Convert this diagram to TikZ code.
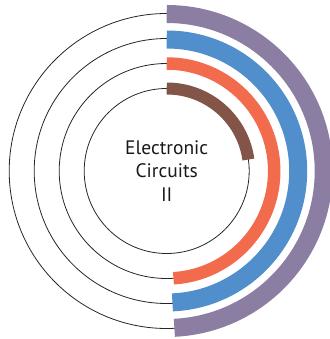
\documentclass[tikz,border=0pt]{standalone}
\usepackage{fontspec}
\setmainfont{PT Sans}
\usepackage{xcolor}
\usepackage{tikz}
\usetikzlibrary{positioning}
\definecolor{ring_brown}{RGB}{131, 85, 73}
\definecolor{ring_orange}{RGB}{242, 107, 77}
\definecolor{ring_blue}{RGB}{80, 143, 203}
\definecolor{ring_purple}{RGB}{140, 125, 162}

\begin{document}
\begin{tikzpicture}[x=1pt, y=1pt,
    orbit/.style={draw=black!85, line width=0.8pt},
    band/.style={line cap=butt}]
            \useasboundingbox (-166.7,-168) rectangle (162.3,171);
            \draw[orbit] (0,0) circle (82.5);
            \draw[orbit] (0,0) circle (107.5);
            \draw[orbit] (0,0) circle (132.5);
            \draw[orbit] (0,0) circle (157.5);
            \draw[band, ring_brown, line width=12pt]  (90:82.5)  arc (90:8:82.5);
            \draw[band, ring_orange, line width=12.5pt] (90:107.5) arc (90:-86.4:107.5);
            \draw[band, ring_blue, line width=18pt]   (90:131.5) arc (90:-87.5:131.5);
            \draw[band, ring_purple, line width=18pt] (90:157)   arc (90:-87.2:157);
            \node[align=center, font=\fontsize{19.5}{23.5}\selectfont,
                  text=black!90] (title) at (0,0) {Electronic\\Circuits\\II};
          \end{tikzpicture}
\end{document}
